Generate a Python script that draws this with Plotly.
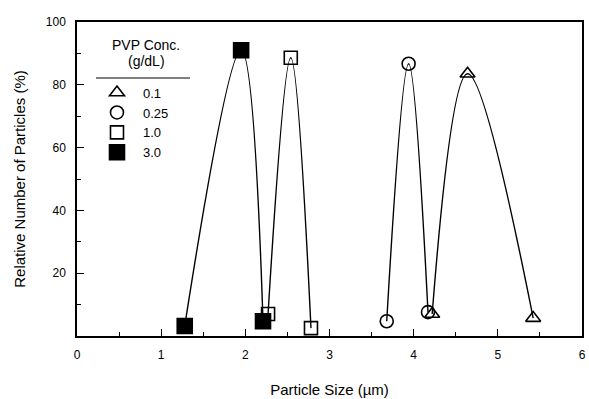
import plotly.graph_objects as go

series_names = ["0.1", "0.25", "1.0", "3.0"]
sizes_01 = [4.22, 4.64, 5.42]
rel_01 = [7.0, 83.5, 5.7]
sizes_025 = [3.68, 3.94, 4.17]
rel_025 = [4.7, 86.7, 7.6]
sizes_10 = [2.27, 2.54, 2.78]
rel_10 = [7.0, 88.6, 2.5]
sizes_30 = [1.28, 1.95, 2.21]
rel_30 = [3.2, 91.0, 4.7]

legend_title_lines = ["PVP Conc.", "(g/dL)"]

symbols = ["triangle-up-open", "circle-open", "square-open", "square"]
msize = [13, 13, 13, 15]
data = [(sizes_01, rel_01), (sizes_025, rel_025), (sizes_10, rel_10), (sizes_30, rel_30)]

FONT = "Liberation Sans, Arial"

fig = go.Figure()
for (xs, ys) in data:
    fig.add_trace(go.Scatter(x=xs, y=ys, mode="lines", line=dict(color="black", width=1.4, shape="spline", smoothing=1.0),
                             showlegend=False, hoverinfo="skip"))
for name, (xs, ys), sym, ms in zip(series_names, data, symbols, msize):
    fig.add_trace(go.Scatter(x=xs, y=ys, mode="markers", name=name,
                             marker=dict(symbol=sym, size=ms, color="black", line=dict(color="black", width=1.6))))

axis_common = dict(showline=True, linecolor="black", linewidth=1.5, mirror=True, ticks="inside", ticklen=7,
                   tickcolor="black", tickwidth=1.2, showgrid=False, zeroline=False, automargin=False,
                   tickfont=dict(family=FONT, size=12, color="black"),
                   title_font=dict(family=FONT, size=15, color="black"))

fig.update_xaxes(range=[0, 6], tickvals=[0, 1, 2, 3, 4, 5, 6], minor=dict(ticks="inside", dtick=0.5, ticklen=4, tickcolor="black"),
                 title_text="Particle Size (µm)", title_standoff=23, ticklabelstandoff=7, **axis_common)
fig.update_yaxes(range=[0, 100], tickvals=[20, 40, 60, 80, 100], minor=dict(ticks="inside", dtick=10, ticklen=4, tickcolor="black"),
                 title_text="Relative Number of Particles (%)", title_standoff=17, ticklabelstandoff=7, **axis_common)

fig.add_shape(type="line", xref="paper", yref="paper", x0=0.0376, x1=0.2238, y0=0.8217, y1=0.8217,
              line=dict(color="black", width=1.2))
for txt, yp in zip(legend_title_lines, [0.9268, 0.8758]):
    fig.add_annotation(text=txt, xref="paper", yref="paper", x=0.137, y=yp, xanchor="center", yanchor="middle",
                       showarrow=False, font=dict(family=FONT, size=14, color="black"))

fig.update_layout(width=589, height=399, margin=dict(l=77, r=7, t=22, b=63),
                  plot_bgcolor="white", paper_bgcolor="white",
                  font=dict(family=FONT, size=12, color="black"),
                  legend=dict(x=0.0277, y=0.823, xanchor="left", yanchor="top", bgcolor="rgba(0,0,0,0)",
                              font=dict(size=13), tracegroupgap=0, itemwidth=42))

fig.write_html("out.html", config={"displayModeBar": False},
               post_script="document.body.style.margin='0px';document.body.style.padding='0px';")
